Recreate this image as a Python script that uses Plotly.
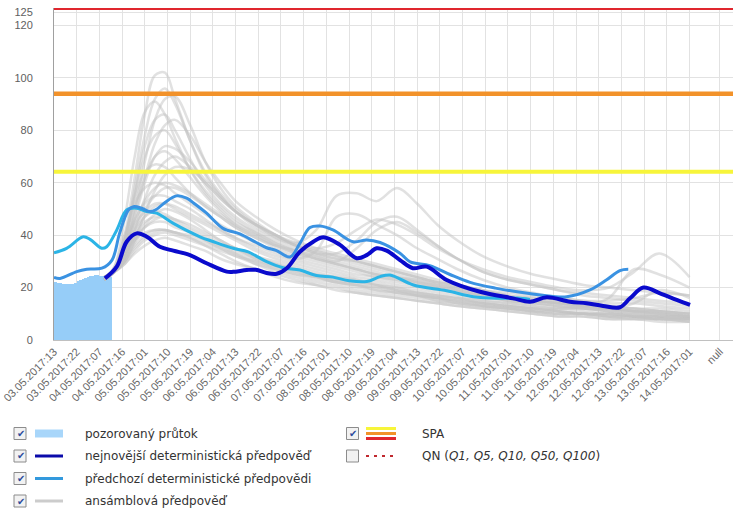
import plotly.graph_objects as go

# ---------------- data (hours counted from 03.05.2017 13:00) ----------------
tick_hours = list(range(0, 253, 9)) + [264]
tick_labels = [
    "03.05.2017:13", "03.05.2017:22", "04.05.2017:07", "04.05.2017:16",
    "05.05.2017:01", "05.05.2017:10", "05.05.2017:19", "06.05.2017:04",
    "06.05.2017:13", "06.05.2017:22", "07.05.2017:07", "07.05.2017:16",
    "08.05.2017:01", "08.05.2017:10", "08.05.2017:19", "09.05.2017:04",
    "09.05.2017:13", "09.05.2017:22", "10.05.2017:07", "10.05.2017:16",
    "11.05.2017:01", "11.05.2017:10", "11.05.2017:19", "12.05.2017:04",
    "12.05.2017:13", "12.05.2017:22", "13.05.2017:07", "13.05.2017:16",
    "14.05.2017:01", "null",
]
y_ticks = [0, 20, 40, 60, 80, 100, 120, 125]

# observed flow (pozorovaný průtok), hourly
obs_hours = list(range(0, 23))
obs_values = [22.0, 21.8, 21.6, 21.5, 21.4, 21.4, 21.3, 21.5, 21.9, 22.4, 22.9,
              23.2, 23.5, 23.9, 24.3, 24.5, 24.7, 24.8, 24.5, 24.3, 24.1, 24.1, 24.0]

# latest deterministic forecast
latest_hours = [20.2, 24.9, 28.8, 32.8, 36.8, 42, 47.3, 53.9, 60.5, 68.5, 71, 76.4,
                80, 84.3, 88.3, 92.3, 97.5, 102.8, 106.8, 113.4, 120, 124, 127.9,
                131.9, 137.2, 142.3, 147.8, 155.7, 168.9, 182, 188.7, 195.4, 204.6,
                211.2, 217.7, 224.4, 228.4, 233.7, 240.3, 246.9, 252.2]
latest_values = [23.5, 28.0, 37.5, 40.7, 39.4, 35.6, 34.1, 32.4, 29.3, 26.1, 26.0, 26.7,
                 26.8, 25.6, 25.3, 27.4, 33.7, 37.5, 39.2, 36.3, 31.2, 32.4, 35.0,
                 34.1, 30.5, 27.4, 28.0, 22.9, 18.4, 15.9, 14.6, 16.3, 14.6,
                 14.0, 13.0, 12.5, 15.9, 20.0, 17.8, 15.3, 13.4]

# previous deterministic forecast (mid blue)
prev1_hours = [0, 2.4, 9, 13, 19, 23, 26, 29.5, 31.5, 35, 38, 40.7, 44, 48.6, 52.6,
               56, 60.5, 67, 73.7, 80, 84.3, 88, 93.6, 97.5, 101.5, 105.5, 110.6,
               118.6, 124, 129.3, 137.2, 141.2, 149, 157, 165, 175, 185, 192.7,
               203.3, 212.5, 219, 224.4, 227.7]
prev1_values = [23.9, 23.5, 26.1, 27.0, 27.4, 30.5, 40.7, 49.6, 50.9, 50.2, 49.0, 49.9,
                52.5, 55.0, 54.1, 51.8, 48.4, 42.6, 40.5, 37.3, 35.2, 34.2, 31.7,
                36.9, 42.9, 43.5, 42.0, 37.5, 38.2, 37.2, 33.1, 29.8, 28.4, 25.0,
                22.0, 19.8, 18.2, 17.2, 16.5, 19.1, 22.9, 26.5, 27.0]

# previous deterministic forecast (cyan)
prev2_hours = [0, 5, 11.6, 14.3, 18.9, 20.9, 24.9, 28.8, 32.8, 36.8, 40.7, 47.3,
               57.9, 63, 71, 77, 84.3, 90.8, 97.5, 104, 110.6, 117, 124, 129.3,
               133.2, 142.5, 155.7, 166.3, 175.5, 183.6, 188.7]
prev2_values = [33.3, 35.0, 39.4, 38.4, 35.0, 35.6, 42.0, 49.6, 50.3, 49.0, 48.4, 44.5,
                39.4, 37.6, 35.0, 33.6, 29.9, 27.6, 26.7, 24.6, 24.0, 22.6, 22.3, 24.2,
                24.8, 21.0, 18.8, 16.5, 15.9, 16.0, 15.5]

# ensemble forecast members
ens_hours = [20, 24, 28, 32, 36, 40, 44, 48, 54, 60, 66, 72, 80, 88, 96, 104, 112,
             120, 128, 136, 144, 152, 160, 170, 180, 190, 200, 210, 220, 230, 240, 252]
ens_members = [
    [23, 27, 40, 62, 86, 101, 102, 92, 76, 63, 55, 49, 43, 39, 36, 33, 31, 30, 28, 26, 24, 22, 20, 18, 16, 15, 14, 13, 12, 11, 11, 10],
    [24, 27, 35, 50, 68, 84, 92, 93, 82, 68, 58, 51, 45, 40, 36, 34, 32, 30, 28, 26, 24, 22, 21, 19, 17, 16, 15, 14, 13, 12, 12, 11],
    [23, 28, 46, 70, 87, 91, 86, 77, 65, 56, 50, 45, 41, 37, 34, 31, 29, 27, 25, 24, 22, 21, 19, 17, 16, 15, 14, 13, 12, 11, 10, 9],
    [24, 27, 38, 56, 74, 84, 86, 80, 69, 59, 52, 47, 42, 38, 35, 33, 33, 38, 45, 47, 42, 36, 31, 26, 23, 21, 19, 17, 16, 15, 14, 13],
    [23, 27, 37, 55, 70, 78, 80, 75, 65, 57, 51, 46, 41, 37, 34, 32, 30, 28, 26, 24, 23, 21, 20, 18, 16, 15, 14, 13, 12, 11, 10, 9],
    [24, 26, 33, 46, 60, 70, 74, 73, 68, 61, 55, 49, 44, 40, 37, 42, 55, 56, 53, 58, 52, 44, 38, 32, 28, 25, 23, 21, 20, 19, 18, 17],
    [23, 27, 36, 50, 62, 70, 72, 69, 62, 55, 49, 44, 40, 36, 33, 31, 29, 27, 25, 23, 22, 20, 19, 17, 15, 14, 13, 12, 11, 11, 10, 9],
    [24, 26, 31, 42, 54, 63, 68, 70, 66, 60, 54, 49, 44, 40, 36, 34, 32, 30, 28, 26, 24, 22, 21, 19, 18, 17, 16, 15, 15, 16, 18, 17],
    [23, 27, 38, 54, 64, 67, 66, 62, 56, 51, 47, 43, 39, 35, 32, 30, 28, 26, 24, 23, 21, 20, 18, 17, 15, 14, 13, 12, 11, 10, 10, 9],
    [24, 26, 30, 38, 48, 57, 63, 66, 65, 60, 54, 49, 44, 40, 37, 35, 37, 42, 46, 44, 40, 35, 31, 27, 24, 22, 20, 19, 20, 26, 33, 24],
    [23, 28, 40, 52, 58, 60, 59, 56, 52, 48, 44, 41, 37, 34, 31, 29, 27, 25, 24, 22, 21, 19, 18, 16, 15, 14, 13, 12, 11, 10, 9, 9],
    [24, 27, 34, 45, 53, 58, 60, 59, 56, 52, 48, 44, 40, 36, 33, 31, 29, 27, 25, 24, 22, 20, 19, 17, 16, 15, 14, 13, 12, 12, 11, 10],
    [23, 26, 32, 42, 50, 55, 58, 58, 55, 51, 47, 43, 39, 36, 34, 32, 30, 35, 42, 45, 41, 36, 31, 26, 23, 21, 19, 18, 17, 16, 15, 14],
    [24, 27, 36, 46, 52, 55, 55, 53, 50, 46, 42, 39, 35, 32, 30, 28, 26, 24, 23, 21, 20, 18, 17, 15, 14, 13, 12, 11, 10, 10, 9, 8],
    [23, 27, 35, 44, 49, 52, 52, 50, 47, 44, 41, 38, 34, 31, 29, 27, 25, 23, 22, 20, 19, 17, 16, 14, 13, 12, 11, 10, 10, 9, 9, 8],
    [24, 26, 31, 40, 47, 51, 52, 51, 48, 45, 42, 39, 36, 33, 31, 34, 47, 48, 44, 40, 35, 31, 27, 23, 20, 18, 16, 15, 14, 14, 13, 12],
    [23, 27, 34, 42, 47, 49, 48, 46, 43, 40, 37, 35, 32, 29, 27, 25, 24, 22, 21, 19, 18, 16, 15, 14, 13, 12, 11, 10, 9, 9, 8, 8],
    [24, 26, 30, 37, 43, 46, 47, 46, 44, 41, 38, 35, 32, 30, 28, 26, 24, 23, 21, 20, 18, 17, 16, 14, 13, 12, 11, 10, 10, 9, 9, 8],
    [23, 26, 32, 39, 43, 45, 45, 43, 41, 38, 35, 33, 30, 28, 26, 24, 23, 21, 20, 19, 17, 16, 15, 13, 12, 11, 10, 10, 9, 8, 8, 7],
    [24, 27, 33, 38, 41, 42, 42, 41, 39, 37, 35, 32, 30, 27, 25, 24, 22, 21, 20, 18, 17, 16, 15, 14, 13, 12, 12, 13, 16, 27, 25, 20],
    [23, 26, 30, 35, 39, 41, 42, 41, 40, 38, 36, 34, 31, 29, 27, 25, 23, 22, 21, 19, 18, 17, 16, 15, 14, 13, 12, 12, 12, 14, 19, 16],
    [24, 26, 29, 34, 38, 40, 41, 40, 38, 36, 34, 32, 29, 27, 25, 23, 22, 20, 19, 18, 17, 15, 14, 13, 12, 11, 10, 10, 9, 9, 8, 8],
    [23, 27, 35, 48, 62, 75, 82, 84, 78, 68, 60, 53, 47, 42, 38, 35, 33, 31, 29, 27, 25, 23, 21, 19, 17, 16, 15, 14, 13, 12, 11, 10],
    [24, 27, 38, 58, 78, 92, 96, 90, 76, 64, 56, 50, 44, 39, 36, 33, 31, 29, 27, 25, 23, 21, 20, 18, 16, 15, 14, 13, 12, 11, 11, 10],
    [23, 26, 29, 33, 36, 38, 39, 38, 36, 34, 31, 29, 27, 24, 22, 21, 19, 18, 17, 16, 15, 14, 13, 12, 11, 10, 9, 9, 8, 8, 7, 7],
    [23, 26, 30, 36, 40, 42, 42, 41, 39, 36, 33, 30, 27, 25, 23, 21, 20, 18, 17, 16, 15, 14, 13, 12, 11, 10, 9, 9, 8, 8, 8, 7],
    [24, 27, 33, 40, 45, 47, 47, 45, 42, 39, 36, 33, 29, 26, 24, 22, 21, 19, 18, 17, 16, 15, 14, 13, 12, 11, 10, 10, 9, 9, 8, 8],
    [23, 26, 31, 38, 44, 48, 50, 49, 46, 42, 38, 35, 31, 28, 26, 24, 22, 21, 19, 18, 17, 16, 14, 13, 12, 11, 11, 10, 10, 9, 9, 9],
]

# SPA thresholds
spa_values = [64.2, 94.0, 126.3]
spa_colors = ["#F7F53A", "#F2922A", "#E0262E"]
spa_widths = [4, 4.5, 2]

# ---------------- figure ----------------
W, H = 733, 519
ML, MR, MT, MB = 54, 0, 8, 179
x_max = (W - ML - MR) / 2.522
y_max = 126.7

fig = go.Figure()

fig.add_trace(go.Bar(x=obs_hours, y=obs_values, width=1, offset=0,
                     marker=dict(color="#96CDF8", line=dict(width=0)),
                     hoverinfo="skip", showlegend=False))

for m in ens_members:
    fig.add_trace(go.Scatter(x=ens_hours, y=m, mode="lines",
                             line=dict(color="rgba(195,195,195,0.5)", width=2.5, shape="spline"),
                             hoverinfo="skip", showlegend=False))

fig.add_trace(go.Scatter(x=prev2_hours, y=prev2_values, mode="lines",
                         line=dict(color="#2BB4E6", width=3, shape="spline"), showlegend=False))
fig.add_trace(go.Scatter(x=prev1_hours, y=prev1_values, mode="lines",
                         line=dict(color="#3A92E2", width=3, shape="spline"), showlegend=False))
fig.add_trace(go.Scatter(x=latest_hours, y=latest_values, mode="lines",
                         line=dict(color="#0A0ACC", width=4, shape="spline"), showlegend=False))

shapes = []
for v, c, w in zip(spa_values, spa_colors, spa_widths):
    shapes.append(dict(type="line", xref="paper", x0=0, x1=1, yref="y", y0=v, y1=v,
                       line=dict(color=c, width=w), layer="above"))

# ---------------- custom legend ----------------
PW = W - ML - MR
PH = H - MT - MB


def px(x):
    return (x - ML) / PW


def py(y):
    return (H - MB - y) / PH


annotations = []


def checkbox(xc, yc, checked=True):
    shapes.append(dict(type="rect", xref="paper", yref="paper",
                       x0=px(xc - 6), x1=px(xc + 6), y0=py(yc + 6), y1=py(yc - 6),
                       line=dict(color="#8C8C8C", width=1), fillcolor="#F2F2F2"))
    if checked:
        annotations.append(dict(xref="paper", yref="paper", x=px(xc + 0.5), y=py(yc),
                                text="✔", showarrow=False, xanchor="center", yanchor="middle",
                                font=dict(size=10, color="#2C4C9C", family="DejaVu Sans")))


def hline(x0, x1, y, color, width, dash="solid"):
    shapes.append(dict(type="line", xref="paper", yref="paper",
                       x0=px(x0), x1=px(x1), y0=py(y), y1=py(y),
                       line=dict(color=color, width=width, dash=dash)))


def label(x, y, text):
    annotations.append(dict(xref="paper", yref="paper", x=px(x), y=py(y), text=text,
                            showarrow=False, xanchor="left", yanchor="middle",
                            font=dict(size=12, color="#333333", family="DejaVu Sans")))


rows = [433.5, 456, 478.5, 501]
legend_texts = ["pozorovaný průtok", "nejnovější deterministická předpověď",
                "předchozí deterministické předpovědi", "ansámblová předpověď"]
for r in rows:
    checkbox(20, r)
shapes.append(dict(type="rect", xref="paper", yref="paper",
                   x0=px(35), x1=px(63), y0=py(rows[0] + 4), y1=py(rows[0] - 4),
                   line=dict(width=0), fillcolor="#A8D6FA"))
hline(35, 63, rows[1], "#0A0AAA", 3)
hline(35, 63, rows[2], "#3399DD", 3)
hline(35, 63, rows[3], "#CCCCCC", 3)
for r, t in zip(rows, legend_texts):
    label(83, r, t)

checkbox(352.5, rows[0])
checkbox(352.5, rows[1], checked=False)
hline(366, 396, rows[0] - 5, spa_colors[0], 3)
hline(366, 396, rows[0], spa_colors[1], 3)
hline(366, 396, rows[0] + 5, spa_colors[2], 3)
hline(366, 396, rows[1], "#C0282E", 2, dash="3px,5px")
label(420, rows[0], "SPA")
label(420, rows[1], "QN (<i>Q1, Q5, Q10, Q50, Q100</i>)")

fig.update_layout(
    width=W, height=H,
    margin=dict(l=ML, r=MR, t=MT, b=MB),
    paper_bgcolor="white", plot_bgcolor="white",
    bargap=0,
    showlegend=False,
    shapes=shapes,
    annotations=annotations,
    xaxis=dict(range=[0, x_max], tickmode="array", tickvals=tick_hours, ticktext=tick_labels,
               tickangle=-45, showgrid=True, gridcolor="#E2E2E2", gridwidth=1,
               showline=True, linecolor="#C0C0C0", linewidth=1, zeroline=False, ticks="",
               tickfont=dict(size=11, color="#666666", family="Liberation Sans, Arial")),
    yaxis=dict(range=[0, y_max], tickmode="array", tickvals=y_ticks,
               showgrid=True, gridcolor="#E2E2E2", gridwidth=1,
               showline=True, linecolor="#A0A0A0", linewidth=1, zeroline=False, ticks="",
               ticklabelstandoff=18,
               tickfont=dict(size=11, color="#606060", family="Liberation Sans, Arial")),
)

fig.write_html("out.html")
